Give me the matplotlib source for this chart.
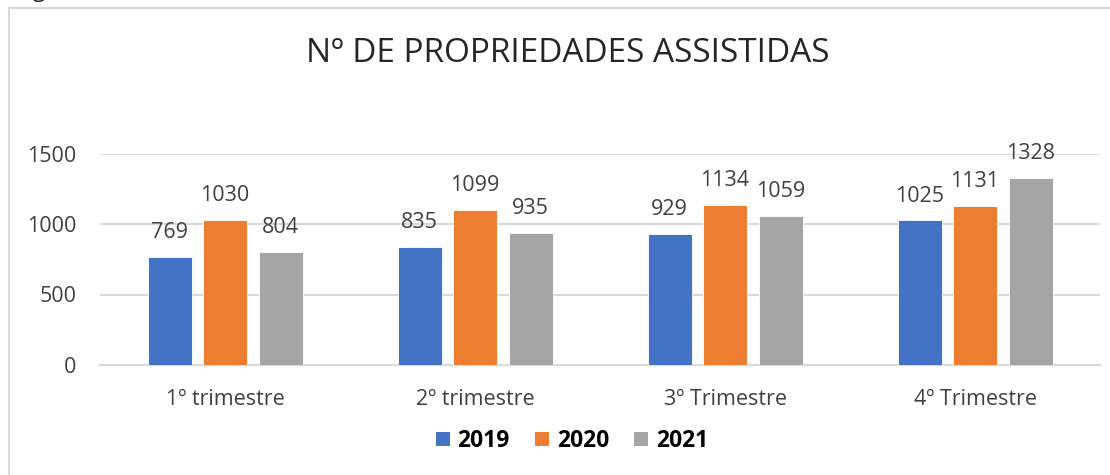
import matplotlib
matplotlib.use("Agg")
import matplotlib.pyplot as plt
import numpy as np
from matplotlib.patches import Patch
from matplotlib.lines import Line2D

plt.rcParams['font.family'] = ['Open Sans', 'DejaVu Sans']

categories = ["1º trimestre", "2º trimestre", "3º Trimestre", "4º Trimestre"]
years = ["2019", "2020", "2021"]
v2019 = [769, 835, 929, 1025]
v2020 = [1030, 1099, 1134, 1131]
v2021 = [804, 935, 1059, 1328]
yticks = [0, 500, 1000, 1500]
title = "Nº DE PROPRIEDADES ASSISTIDAS"

colors = ["#4472C4", "#ED7D31", "#A5A5A5"]
grid_color = "#D9D9D9"
text_color = "#404040"

W, H = 1110, 475
fig = plt.figure(figsize=(W / 100, H / 100), dpi=100)
ax = fig.add_axes([100 / W, 1 - 365 / H, 1000 / W, (365 - 153.5) / H])

x = np.arange(len(categories))
width = 0.176
step = 0.222
for i, (vals, col) in enumerate(zip([v2019, v2020, v2021], colors)):
    bars = ax.bar(x + (i - 1) * step, vals, width, color=col, zorder=3,
                  edgecolor="white", linewidth=0.6)
    for b, v in zip(bars, vals):
        ax.annotate(str(v), (b.get_x() + b.get_width() / 2, v),
                    xytext=(0, 10), textcoords="offset points",
                    ha="center", va="bottom", fontsize=15.5, color=text_color)

ax.set_xlim(-0.5, len(categories) - 0.5)
ax.set_ylim(0, 1500)
ax.set_yticks(yticks)
ax.set_yticklabels([str(t) for t in yticks], fontsize=15.5, color=text_color)
ax.set_xticks(x)
ax.set_xticklabels(categories, fontsize=15.5, color=text_color)
ax.tick_params(length=0)
ax.tick_params(axis="y", pad=17)
ax.tick_params(axis="x", pad=17)
ax.grid(axis="y", color=grid_color, linewidth=1.5, zorder=0)
for s in ["top", "right", "left"]:
    ax.spines[s].set_visible(False)
ax.spines["bottom"].set_color(grid_color)
ax.spines["bottom"].set_linewidth(1.5)

fig.text(568 / W, 1 - 53 / H, title, ha="center", va="center",
         fontsize=24, color="#262626")

handles = [Patch(facecolor=c, edgecolor="none") for c in colors]
fig.legend(handles, years, loc="center", bbox_to_anchor=(572 / W, 1 - 441 / H),
           ncol=3, frameon=False, handlelength=0.6, handleheight=0.6,
           handletextpad=0.35, columnspacing=1.1,
           prop={"weight": "bold", "size": 16.5})

# chart frame (left and top edges visible in the screenshot)
fig.add_artist(Line2D([9 / W, 9 / W], [0, 1 - 8 / H], transform=fig.transFigure,
                      color=grid_color, linewidth=1.5))
fig.add_artist(Line2D([9 / W, 1], [1 - 8 / H, 1 - 8 / H], transform=fig.transFigure,
                      color=grid_color, linewidth=1.5))
# tail of a caption letter cut off above the chart
fig.text(33 / W, 1 + 3 / H, "g", ha="left", va="baseline", fontsize=16, color="#262626")

fig.savefig("out.png", dpi=100, facecolor="white")
